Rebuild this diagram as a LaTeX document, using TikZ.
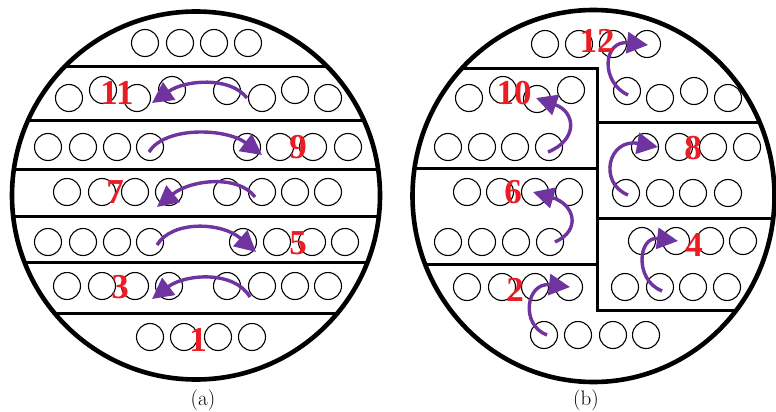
\documentclass[tikz,border=0pt]{standalone}
\usepackage{fontspec}
\newfontfamily\labfont{Liberation Serif}
\usetikzlibrary{arrows.meta}
\definecolor{flowpurple}{RGB}{112,52,160}
\definecolor{labred}{RGB}{236,28,36}
\begin{document}
\begin{tikzpicture}[x=1pt,y=-1pt,
  tube/.style={draw=black, line width=1.1pt},
  shell/.style={draw=black, line width=4.6pt},
  baffle/.style={draw=black, line width=3pt, line join=miter},
  flow/.style={draw=flowpurple, line width=3.4pt, -{Triangle[length=21pt,width=21pt]}},
  passlabel/.style={text=labred, font=\labfont\bfseries\fontsize{35}{35}\selectfont, inner sep=0pt},
  caption/.style={font=\fontsize{21}{21}\selectfont, inner sep=0pt}
]
\useasboundingbox (0,0) rectangle (776,412);
\fill[white] (0,0) rectangle (776,412);

% ---------- (a) ----------
\foreach \x/\y in {145/43,180/43,214/43,248/43,
  69/98,103/90,137/98,172/90,227/91,262/98,295/90,328/98,
  48/147,83/147,117/147,150/147,247/147,280/147,313/147,348/147,
  67/192,102/192,135/192,169/192,227/192,262/192,295/192,328/192,
  48/242,83/242,117/242,150/242,243/242,277/242,312/242,345/242,
  67/286,102/286,135/286,169/286,227/286,262/286,295/286,328/286,
  150/337,184/337,218/337,252/337}
  \draw[tube] (\x,\y) circle[radius=13.5pt];

\begin{scope}
  \clip (196,195.5) circle[radius=184pt];
  \foreach \y in {67,120,169,216,262,313}
    \draw[baffle] (0,\y) -- (400,\y);
\end{scope}
\draw[shell] (196,195.5) circle[radius=184pt];

\coordinate (a11s) at (247,98);  \coordinate (a11e) at (152,103);
\coordinate (a9s)  at (149,152); \coordinate (a9e)  at (262,155);
\coordinate (a7s)  at (255,197); \coordinate (a7e)  at (157,207);
\coordinate (a5s)  at (157,245); \coordinate (a5e)  at (256,252);
\coordinate (a3s)  at (250,297); \coordinate (a3e)  at (152,299);
\draw[flow] (a11s) .. controls (230,76) and (185,80) .. (a11e);
\draw[flow] (a9s) .. controls (165,126) and (226,128) .. (a9e);
\draw[flow] (a7s) .. controls (238,174) and (190,180) .. (a7e);
\draw[flow] (a5s) .. controls (172,220) and (222,222) .. (a5e);
\draw[flow] (a3s) .. controls (234,270) and (185,274) .. (a3e);

\node[passlabel] (l11) at (117,93) {11};
\node[passlabel] (l9)  at (298,147) {9};
\node[passlabel] (l7)  at (115,192) {7};
\node[passlabel] (l5)  at (298,243) {5};
\node[passlabel] (l3)  at (120,287) {3};
\node[passlabel] (l1)  at (198,340) {1};
\node[caption] (capa) at (203,400) {(a)};

% ---------- (b) ----------
\foreach \x/\y in {545/44,579/44,613/44,647/44,
  469/98,503/90,537/99,571/90,
  627/91,660/98,694/91,728/98,
  448/147,482/147,515/147,549/147,
  645/147,679/147,713/147,747/147,
  467/192,500/192,535/192,569/192,
  626/193,660/193,693/193,728/193,
  448/242,482/242,516/242,550/242,
  642/241,676/241,710/241,743/241,
  467/287,502/287,535/287,569/287,
  625/287,660/287,693/287,727/287,
  544/335,578/335,613/335,646/335}
  \draw[tube] (\x,\y) circle[radius=13.5pt];

\begin{scope}
  \clip (593.5,196) ellipse[x radius=181pt, y radius=186pt];
  \draw[baffle] (380,69) -- (597,69) -- (597,310) -- (800,310);
  \draw[baffle] (597,122) -- (800,122);
  \draw[baffle] (380,168) -- (597,168);
  \draw[baffle] (597,218) -- (800,218);
  \draw[baffle] (380,264) -- (597,264);
\end{scope}
\draw[shell] (593.5,196) ellipse[x radius=181pt, y radius=186pt];

\coordinate (b12s) at (628,95);  \coordinate (b12e) at (648,45);
\coordinate (b10s) at (548,152); \coordinate (b10e) at (536,98);
\coordinate (b8s)  at (628,195); \coordinate (b8e)  at (658,147);
\coordinate (b6s)  at (555,242); \coordinate (b6e)  at (533,192);
\coordinate (b4s)  at (662,291); \coordinate (b4e)  at (678,241);
\coordinate (b2s)  at (547,335); \coordinate (b2e)  at (570,287);
\draw[flow] (b12s) .. controls (600,82) and (603,40) .. (b12e);
\draw[flow] (b10s) .. controls (578,140) and (576,112) .. (b10e);
\draw[flow] (b8s) .. controls (598,183) and (608,138) .. (b8e);
\draw[flow] (b6s) .. controls (582,230) and (574,204) .. (b6e);
\draw[flow] (b4s) .. controls (634,280) and (638,236) .. (b4e);
\draw[flow] (b2s) .. controls (520,325) and (526,282) .. (b2e);

\node[passlabel] (l12) at (597,41) {12};
\node[passlabel] (l10) at (514,93) {10};
\node[passlabel] (l8)  at (693,148) {8};
\node[passlabel] (l6)  at (513,192) {6};
\node[passlabel] (l4)  at (694,245) {4};
\node[passlabel] (l2)  at (515,290) {2};
\node[caption] (capb) at (586,400) {(b)};
\end{tikzpicture}
\end{document}
